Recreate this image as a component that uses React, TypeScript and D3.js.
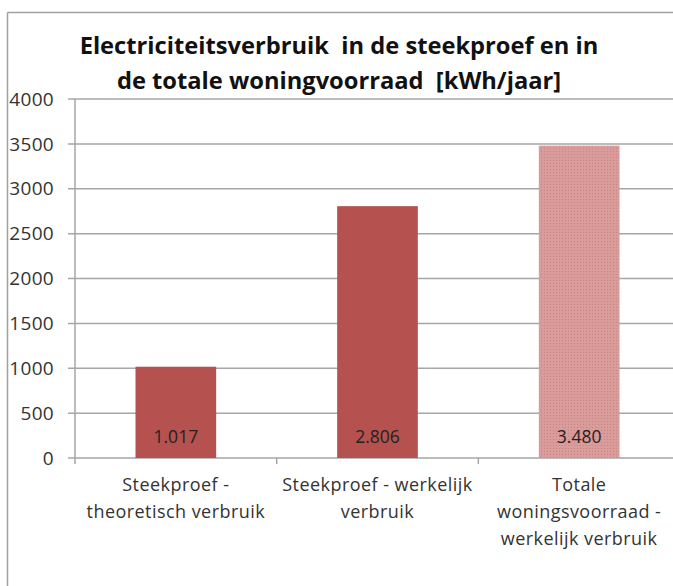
import React from "react";
import * as d3 from "d3";

const categories = ["c1", "c2", "c3"];
const categoryLines = [
  ["Steekproef -", "theoretisch verbruik"],
  ["Steekproef - werkelijk", "verbruik"],
  ["Totale", "woningsvoorraad -", "werkelijk verbruik"],
];
const values = [1017, 2806, 3480];
const valueLabels = ["1.017", "2.806", "3.480"];
const yTicks = [0, 500, 1000, 1500, 2000, 2500, 3000, 3500, 4000];
const titleLines = [
  "Electriciteitsverbruik  in de steekproef en in",
  "de totale woningvoorraad  [kWh/jaar]",
];

const W = 673;
const H = 586;
const FONT = "'Open Sans', Lato, sans-serif";

export default function App() {
  const x = d3.scaleBand<string>().domain(categories).range([75, 680]).paddingInner(0.6).paddingOuter(0.3);
  const y = d3.scaleLinear().domain([0, 4000]).range([458, 99]);
  const step = x.step();
  const x0 = 75;
  const fills = ["#B5514E", "#B5514E", "url(#dots)"];

  return (
    <svg width={W} height={H} style={{ position: "absolute", left: 0, top: 0 }}>
      <defs>
        <pattern id="dots" width="3" height="3" patternUnits="userSpaceOnUse">
          <rect width="3" height="3" fill="#DA9C9A" />
          <rect x="1" y="1" width="1" height="1" fill="#C98381" />
        </pattern>
      </defs>
      <rect x={0} y={0} width={W} height={H} fill="#fff" />
      <line x1={7.5} x2={W} y1={12.5} y2={12.5} stroke="#a0a0a0" strokeWidth={1.5} />
      <line x1={7.5} x2={7.5} y1={12.5} y2={H} stroke="#a0a0a0" strokeWidth={1.5} />
      {titleLines.map((t, i) => (
        <text key={i} x={339} y={54 + i * 35} textAnchor="middle" fontFamily={FONT} fontWeight="bold" fontSize={23.7} fill="#111" style={{ whiteSpace: "pre" }}>
          {t}
        </text>
      ))}
      {yTicks.map((v) => (
        <g key={v}>
          <line x1={68} x2={W} y1={y(v)} y2={y(v)} stroke="#a6a6a6" strokeWidth={1.5} />
          <text x={54} y={y(v)} dy="0.35em" textAnchor="end" fontFamily={FONT} fontWeight={500} fontSize={19} letterSpacing={0.3} fill="#333">
            {v}
          </text>
        </g>
      ))}
      <line x1={x0} x2={x0} y1={y(4000)} y2={y(0) + 6} stroke="#a6a6a6" strokeWidth={1.5} />
      {[1, 2].map((i) => (
        <line key={i} x1={x0 + step * i} x2={x0 + step * i} y1={y(0)} y2={y(0) + 6} stroke="#a6a6a6" strokeWidth={1.5} />
      ))}
      {categories.map((c, i) => (
        <g key={c}>
          <rect x={x(c)} y={y(values[i])} width={x.bandwidth()} height={y(0) - y(values[i])} fill={fills[i]} />
          <text x={(x(c) as number) + x.bandwidth() / 2} y={y(0) - 21} dy="0.35em" textAnchor="middle" fontFamily={FONT} fontWeight={500} fontSize={17.5} fill="#222">
            {valueLabels[i]}
          </text>
          {categoryLines[i].map((l, j) => (
            <text key={j} x={(x(c) as number) + x.bandwidth() / 2} y={485 + j * 27} dy="0.35em" textAnchor="middle" fontFamily={FONT} fontWeight={500} fontSize={18} letterSpacing={0.45} fill="#333">
              {l}
            </text>
          ))}
        </g>
      ))}
    </svg>
  );
}
